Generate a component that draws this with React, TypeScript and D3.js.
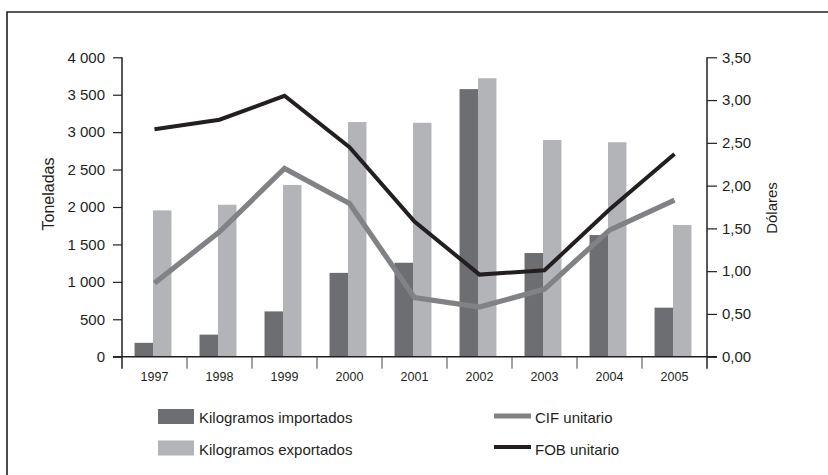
import React, { useEffect, useRef } from 'react';
import * as d3 from 'd3';

const years = ['1997', '1998', '1999', '2000', '2001', '2002', '2003', '2004', '2005'];
const importados = [185, 295, 605, 1120, 1255, 3575, 1385, 1625, 655];
const exportados = [1955, 2030, 2295, 3135, 3125, 3720, 2895, 2865, 1760];
const cifUnitario = [0.86, 1.46, 2.2, 1.79, 0.69, 0.58, 0.79, 1.48, 1.83];
const fobUnitario = [2.66, 2.77, 3.05, 2.45, 1.58, 0.96, 1.01, 1.72, 2.37];
const leftTicks = [0, 500, 1000, 1500, 2000, 2500, 3000, 3500, 4000];
const rightTicks = [0, 0.5, 1, 1.5, 2, 2.5, 3, 3.5];

const DARK = '#6d6e71';
const LIGHT = '#b3b4b7';
const CIF = '#808285';
const FOB = '#231f20';
const FONT = '"Liberation Sans", Arial, Helvetica, sans-serif';

function Chart() {
  const svgRef = useRef(null);

  useEffect(() => {
    const svg = d3.select(svgRef.current);
    svg.selectAll('*').remove();

    const left = 122, right = 707, top = 57.3, bottom = 356.7;
    const locale = d3.formatLocale({ decimal: ',', thousands: ' ', grouping: [3], currency: ['', ''] });
    const fmtLeft = locale.format(',d');
    const fmtRight = locale.format('.2f');

    const x = d3.scaleBand().domain(years).range([left, right]).padding(0);
    const x1 = d3.scaleBand().domain(['imp', 'exp']).range([0, x.bandwidth()]).paddingOuter(0.76);
    const y = d3.scaleLinear().domain([0, 4000]).range([bottom, top]);
    const y2 = d3.scaleLinear().domain([0, 3.5]).range([bottom, top]);

    // frame (top and left only)
    svg.append('path')
      .attr('d', `M7,475 L7,12 L828,12`)
      .attr('fill', 'none')
      .attr('stroke', FOB)
      .attr('stroke-width', 1.6);

    // bars
    const g = svg.append('g');
    years.forEach((yr, i) => {
      const gx = x(yr) - 1.5;
      g.append('rect')
        .attr('x', gx + x1('imp'))
        .attr('y', y(importados[i]))
        .attr('width', x1.bandwidth())
        .attr('height', y(0) - y(importados[i]))
        .attr('fill', DARK);
      g.append('rect')
        .attr('x', gx + x1('exp'))
        .attr('y', y(exportados[i]))
        .attr('width', x1.bandwidth())
        .attr('height', y(0) - y(exportados[i]))
        .attr('fill', LIGHT);
    });

    // lines
    const line = d3.line().x((d, i) => x(years[i]) + x.bandwidth() / 2).y(d => y2(d));
    svg.append('path')
      .attr('d', line(cifUnitario))
      .attr('fill', 'none')
      .attr('stroke', CIF)
      .attr('stroke-width', 5.2)
      .attr('stroke-linejoin', 'miter');
    svg.append('path')
      .attr('d', line(fobUnitario))
      .attr('fill', 'none')
      .attr('stroke', FOB)
      .attr('stroke-width', 4)
      .attr('stroke-linejoin', 'miter');

    // left axis
    const ax = svg.append('g')
      .attr('transform', `translate(${left},0)`)
      .call(d3.axisLeft(y).tickValues(leftTicks).tickFormat(fmtLeft).tickSize(9).tickPadding(8).tickSizeOuter(0));
    ax.select('.domain').remove();
    ax.selectAll('line').attr('stroke', FOB).attr('stroke-width', 1.2);
    ax.selectAll('text').attr('font-family', FONT).attr('font-size', 15).attr('fill', '#231f20');

    // right axis
    const ay = svg.append('g')
      .attr('transform', `translate(${right},0)`)
      .call(d3.axisRight(y2).tickValues(rightTicks).tickFormat(fmtRight).tickSize(10).tickPadding(5).tickSizeOuter(0));
    ay.select('.domain').remove();
    ay.selectAll('line').attr('stroke', FOB).attr('stroke-width', 1.2);
    ay.selectAll('text').attr('font-family', FONT).attr('font-size', 15).attr('fill', '#231f20');

    // axis lines
    svg.append('line').attr('x1', left).attr('x2', left).attr('y1', top).attr('y2', bottom + 12)
      .attr('stroke', FOB).attr('stroke-width', 1.5);
    svg.append('line').attr('x1', right).attr('x2', right).attr('y1', top).attr('y2', bottom + 12)
      .attr('stroke', FOB).attr('stroke-width', 1.5);
    svg.append('line').attr('x1', left - 9).attr('x2', right + 10).attr('y1', bottom).attr('y2', bottom)
      .attr('stroke', FOB).attr('stroke-width', 1.5);

    // category separators
    svg.selectAll('.sep')
      .data(years.slice(1))
      .enter()
      .append('line')
      .attr('x1', d => x(d)).attr('x2', d => x(d))
      .attr('y1', bottom).attr('y2', bottom + 12)
      .attr('stroke', '#444').attr('stroke-width', 1);

    // x labels
    const axx = svg.append('g')
      .attr('transform', `translate(0,${bottom})`)
      .call(d3.axisBottom(x).tickSize(0).tickPadding(15));
    axx.select('.domain').remove();
    axx.selectAll('text').attr('font-family', FONT).attr('font-size', 12.5).attr('fill', '#231f20');

    // axis titles
    svg.append('text')
      .attr('transform', 'translate(54,194) rotate(-90)')
      .attr('text-anchor', 'middle')
      .attr('font-family', FONT).attr('font-size', 16).attr('fill', '#231f20')
      .text('Toneladas');
    svg.append('text')
      .attr('transform', 'translate(777,208) rotate(-90)')
      .attr('text-anchor', 'middle')
      .attr('font-family', FONT).attr('font-size', 15).attr('fill', '#231f20')
      .text('Dólares');

    // legend
    const lg = svg.append('g').attr('font-family', FONT).attr('font-size', 15).attr('fill', '#231f20');
    lg.append('rect').attr('x', 158).attr('y', 409).attr('width', 36).attr('height', 15).attr('fill', DARK);
    lg.append('rect').attr('x', 158).attr('y', 440.5).attr('width', 36).attr('height', 15).attr('fill', LIGHT);
    lg.append('text').attr('x', 199).attr('y', 423).text('Kilogramos importados');
    lg.append('text').attr('x', 199).attr('y', 455).text('Kilogramos exportados');
    lg.append('line').attr('x1', 494).attr('x2', 531).attr('y1', 416).attr('y2', 416).attr('stroke', CIF).attr('stroke-width', 5);
    lg.append('line').attr('x1', 494).attr('x2', 531).attr('y1', 447).attr('y2', 447).attr('stroke', FOB).attr('stroke-width', 4);
    lg.append('text').attr('x', 535).attr('y', 423).text('CIF unitario');
    lg.append('text').attr('x', 535).attr('y', 455).text('FOB unitario');
  }, []);

  return (
    <svg ref={svgRef} width={828} height={475}
      style={{ position: 'absolute', left: 0, top: 0, background: '#fff', display: 'block' }} />
  );
}

export default function App() {
  return <Chart />;
}
